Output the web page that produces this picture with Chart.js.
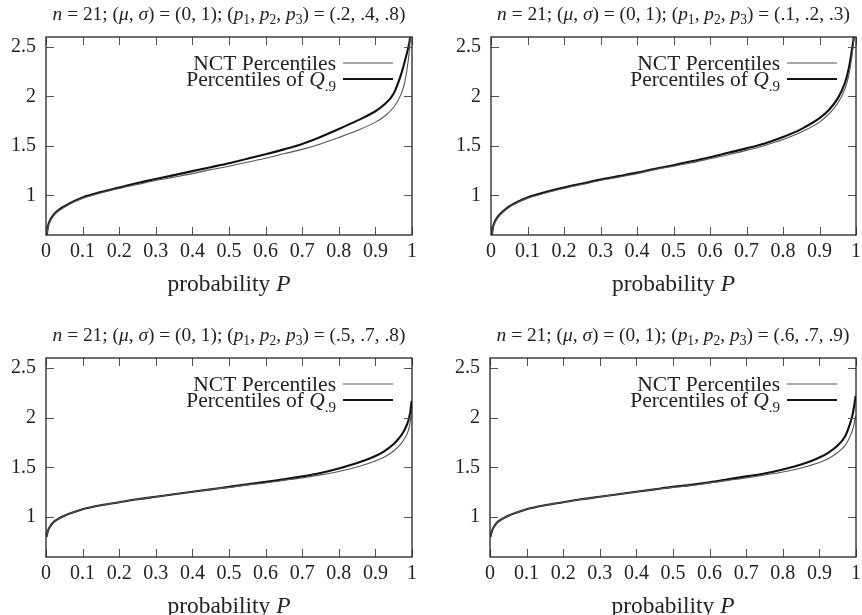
<!DOCTYPE html>
<html>
<head>
<meta charset="utf-8">
<script src="https://cdn.jsdelivr.net/npm/chart.js@4.4.1/dist/chart.umd.min.js"></script>
<style>
html,body{margin:0;padding:0;background:#fff}
#wrap{position:relative;width:862px;height:615px}
canvas{position:absolute;display:block}
</style>
</head>
<body>
<div id="wrap">
  <canvas id="c0" width="431" height="307" style="left:0;top:0"></canvas>
  <canvas id="c1" width="431" height="307" style="left:431px;top:0"></canvas>
  <canvas id="c2" width="431" height="308" style="left:0;top:307px"></canvas>
  <canvas id="c3" width="431" height="308" style="left:431px;top:307px"></canvas>
</div>
<script>
const probs = [0.001, 0.005, 0.01, 0.02, 0.03, 0.05, 0.075, 0.1, 0.15, 0.2, 0.25, 0.3, 0.35, 0.4, 0.45, 0.5,
  0.55, 0.6, 0.65, 0.7, 0.75, 0.8, 0.85, 0.9, 0.925, 0.95, 0.97, 0.98, 0.99, 0.995, 0.999];
const xTicks = [0, 0.1, 0.2, 0.3, 0.4, 0.5, 0.6, 0.7, 0.8, 0.9, 1];
const yTicks = [1, 1.5, 2, 2.5];
const yMin = 0.6, yMax = 2.6;
const seriesNames = ['NCT Percentiles', 'Percentiles of Q.9'];
const pTriples = ['(.2, .4, .8)', '(.1, .2, .3)', '(.5, .7, .8)', '(.6, .7, .9)'];

// panel 1: (p1,p2,p3) = (.2,.4,.8)
const nct1 = [0.54, 0.67, 0.73, 0.79, 0.83, 0.88, 0.93, 0.97, 1.025, 1.07, 1.11, 1.15, 1.185, 1.22, 1.26, 1.295,
  1.335, 1.375, 1.42, 1.465, 1.52, 1.585, 1.655, 1.74, 1.80, 1.89, 2.02, 2.14, 2.37, 2.58, 3.0];
const q1 = [0.55, 0.68, 0.74, 0.80, 0.84, 0.89, 0.94, 0.98, 1.035, 1.08, 1.125, 1.165, 1.205, 1.245, 1.285, 1.325,
  1.37, 1.415, 1.465, 1.52, 1.59, 1.67, 1.755, 1.85, 1.92, 2.03, 2.22, 2.35, 2.50, 2.62, 3.0];
// panel 2: (.1,.2,.3)
const nct2 = [0.54, 0.66, 0.72, 0.78, 0.82, 0.88, 0.93, 0.97, 1.025, 1.07, 1.11, 1.15, 1.185, 1.22, 1.26, 1.295,
  1.33, 1.37, 1.41, 1.455, 1.505, 1.565, 1.64, 1.74, 1.82, 1.93, 2.08, 2.21, 2.44, 2.62, 3.0];
const q2 = [0.54, 0.67, 0.73, 0.79, 0.83, 0.89, 0.94, 0.98, 1.035, 1.08, 1.12, 1.16, 1.195, 1.23, 1.27, 1.305,
  1.345, 1.385, 1.43, 1.475, 1.525, 1.59, 1.67, 1.78, 1.86, 1.98, 2.14, 2.28, 2.50, 2.65, 3.0];
// panel 3: (.5,.7,.8)
const nct3 = [0.80, 0.86, 0.90, 0.95, 0.975, 1.015, 1.05, 1.08, 1.12, 1.15, 1.18, 1.205, 1.23, 1.255, 1.28, 1.30,
  1.325, 1.345, 1.37, 1.395, 1.425, 1.46, 1.505, 1.565, 1.605, 1.665, 1.74, 1.79, 1.87, 1.95, 2.08];
const q3 = [0.80, 0.86, 0.90, 0.95, 0.975, 1.015, 1.05, 1.08, 1.12, 1.15, 1.18, 1.205, 1.23, 1.255, 1.28, 1.305,
  1.33, 1.355, 1.38, 1.41, 1.445, 1.49, 1.545, 1.615, 1.665, 1.735, 1.82, 1.88, 1.97, 2.05, 2.17];
// panel 4: (.6,.7,.9)
const nct4 = [0.80, 0.86, 0.90, 0.95, 0.975, 1.015, 1.05, 1.08, 1.12, 1.15, 1.18, 1.205, 1.23, 1.255, 1.28, 1.30,
  1.32, 1.345, 1.37, 1.395, 1.425, 1.455, 1.495, 1.55, 1.59, 1.65, 1.72, 1.78, 1.87, 1.94, 2.02];
const q4 = [0.80, 0.86, 0.90, 0.95, 0.975, 1.015, 1.05, 1.08, 1.12, 1.15, 1.18, 1.205, 1.23, 1.255, 1.28, 1.305,
  1.325, 1.35, 1.38, 1.41, 1.44, 1.48, 1.53, 1.60, 1.65, 1.72, 1.81, 1.90, 2.02, 2.12, 2.22];

const panelData = [[nct1, q1], [nct2, q2], [nct3, q3], [nct4, q4]];

// plot frame of each canvas (left, right, top, bottom of the chart area)
const boxes = [
  {id: 'c0', W: 431, H: 307, L: 46, R: 412, T: 37, B: 235},
  {id: 'c1', W: 431, H: 307, L: 60, R: 425, T: 37, B: 235},
  {id: 'c2', W: 431, H: 308, L: 46, R: 412, T: 51, B: 250},
  {id: 'c3', W: 431, H: 308, L: 59, R: 425, T: 51, B: 250}
];

const SERIF = "'Liberation Serif','DejaVu Serif',serif";
const INK = '#222';

// rich text: segments [text, flags] with 'i' italic and 's' subscript
function segFont(size, flags){
  const sz = flags.includes('s') ? size * 0.7 : size;
  return (flags.includes('i') ? 'italic ' : '') + sz + 'px ' + SERIF;
}
function richWidth(ctx, segs, size){
  let w = 0;
  segs.forEach(([t, f]) => { ctx.font = segFont(size, f || ''); w += ctx.measureText(t).width; });
  return w;
}
function fitSize(ctx, segs, target){ return 100 * target / richWidth(ctx, segs, 100); }
function drawRich(ctx, segs, x, y, size, align){
  const w = richWidth(ctx, segs, size);
  let cx = align === 'center' ? x - w / 2 : (align === 'right' ? x - w : x);
  ctx.textAlign = 'left'; ctx.textBaseline = 'alphabetic'; ctx.fillStyle = INK;
  segs.forEach(([t, f]) => {
    f = f || '';
    ctx.font = segFont(size, f);
    ctx.fillText(t, cx, f.includes('s') ? y + size * 0.22 : y);
    cx += ctx.measureText(t).width;
  });
}

const styles = [
  {color: '#555', width: 1.1},
  {color: '#111', width: 2.1}
];

const decor = {
  id: 'decor',
  afterDatasetsDraw(chart, args, opts){
    const ctx = chart.ctx, a = chart.chartArea;
    const xs = chart.scales.x, ys = chart.scales.y;
    ctx.save();
    // inward ticks on all four sides
    ctx.strokeStyle = '#555'; ctx.lineWidth = 1;
    ctx.beginPath();
    xTicks.forEach(v => {
      const px = Math.round(xs.getPixelForValue(v)) + 0.5;
      ctx.moveTo(px, a.bottom); ctx.lineTo(px, a.bottom - 8);
      ctx.moveTo(px, a.top); ctx.lineTo(px, a.top + 8);
    });
    yTicks.forEach(v => {
      const py = Math.round(ys.getPixelForValue(v)) + 0.5;
      ctx.moveTo(a.left, py); ctx.lineTo(a.left + 8, py);
      ctx.moveTo(a.right, py); ctx.lineTo(a.right - 8, py);
    });
    ctx.stroke();
    ctx.strokeStyle = '#222'; ctx.lineWidth = 1.3;
    ctx.strokeRect(a.left, a.top, a.right - a.left, a.bottom - a.top);

    const mid = (a.left + a.right) / 2;
    // title
    const title = [['n', 'i'], [' = 21; ('], ['\u03bc', 'i'], [', '], ['\u03c3', 'i'], [') = (0, 1); ('],
      ['p', 'i'], ['1', 's'], [', '], ['p', 'i'], ['2', 's'], [', '], ['p', 'i'], ['3', 's'], [') = ' + opts.triple]];
    drawRich(ctx, title, mid, a.top - 17, fitSize(ctx, title, 353), 'center');

    // legend
    const l1 = [[seriesNames[0]]];
    const l2 = [['Percentiles of '], ['Q', 'i'], ['.9', 's']];
    const ls = 21.5;
    const tx = a.right - 76;
    [[l1, a.top + 26], [l2, a.top + 42]].forEach(([segs, yy], i) => {
      drawRich(ctx, segs, tx, yy + 7, ls, 'right');
      ctx.strokeStyle = styles[i].color; ctx.lineWidth = styles[i].width;
      ctx.beginPath(); ctx.moveTo(a.right - 69, yy); ctx.lineTo(a.right - 19, yy); ctx.stroke();
    });

    // x axis title
    const xt = [['probability '], ['P', 'i']];
    drawRich(ctx, xt, mid, a.bottom + 56, fitSize(ctx, xt, 123), 'center');
    ctx.restore();
  }
};

boxes.forEach((b, k) => {
  const zero = s => { s.paddingLeft = 0; s.paddingRight = 0; s.paddingTop = 0; s.paddingBottom = 0; };
  new Chart(document.getElementById(b.id), {
    type: 'line',
    data: {
      datasets: panelData[k].map((arr, i) => ({
        label: seriesNames[i],
        data: probs.map((p, j) => ({x: p, y: arr[j]})),
        borderColor: styles[i].color,
        borderWidth: styles[i].width,
        pointRadius: 0,
        fill: false,
        cubicInterpolationMode: 'monotone'
      }))
    },
    options: {
      responsive: false,
      animation: false,
      devicePixelRatio: 1,
      layout: {padding: {top: b.T, right: b.W - b.R, left: 0, bottom: 0}},
      plugins: {
        legend: {display: false},
        tooltip: {enabled: false},
        decor: {triple: pTriples[k]}
      },
      scales: {
        x: {
          type: 'linear', min: 0, max: 1,
          afterBuildTicks: s => { s.ticks = xTicks.map(v => ({value: v})); },
          afterFit: s => { s.height = b.H - b.B; zero(s); },
          grid: {display: false, drawTicks: false},
          border: {display: false},
          ticks: {padding: 5, color: INK, maxRotation: 0, autoSkip: false,
            font: {family: SERIF, size: 20}, callback: v => String(v)}
        },
        y: {
          type: 'linear', min: yMin, max: yMax,
          afterBuildTicks: s => { s.ticks = yTicks.map(v => ({value: v})); },
          afterFit: s => { s.width = b.L; zero(s); },
          grid: {display: false, drawTicks: false},
          border: {display: false},
          ticks: {padding: 10, color: INK, font: {family: SERIF, size: 20}, callback: v => String(v)}
        }
      }
    },
    plugins: [decor]
  });
});
</script>
</body>
</html>
